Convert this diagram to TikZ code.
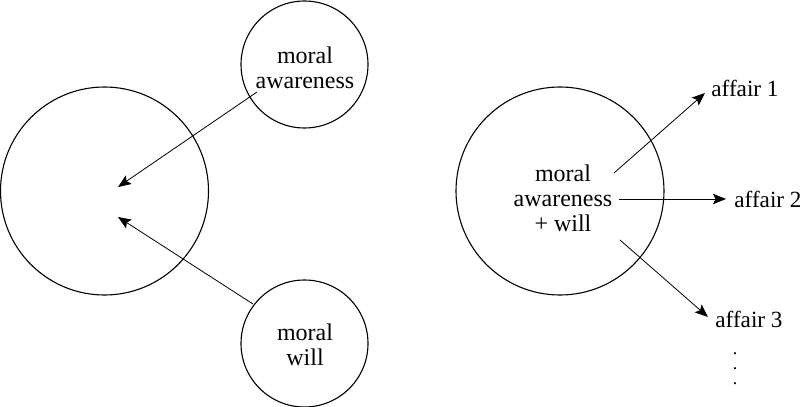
\documentclass[tikz,border=0pt]{standalone}
\usepackage{fontspec}
\setmainfont{Liberation Serif}
\usetikzlibrary{arrows.meta}
\begin{document}
\begin{tikzpicture}[x=0.5pt,y=-0.5pt,
  bigc/.style={circle,draw,line width=0.55pt,minimum size=104pt,inner sep=0pt},
  smallc/.style={circle,draw,line width=0.55pt,minimum size=63.5pt,inner sep=0pt},
  lbl/.style={inner sep=0pt,font=\fontsize{12}{12.5}\selectfont,align=center},
  aff/.style={inner sep=0pt,font=\fontsize{11.6}{12.5}\selectfont,anchor=west},
  arr/.style={line width=0.4pt,-{Stealth[length=6.5pt,width=5.2pt,inset=1.3pt]}}]
\useasboundingbox (0,0) rectangle (800,407);
% left part
\node[bigc] (L) at (104.5,191) {};
\node[smallc] (A) at (304.5,64.5) {};
\node[lbl] (At) at (305,68) {moral\\awareness};
\node[smallc] (W) at (304.5,343.5) {};
\node[lbl] (Wt) at (305,345) {moral\\will};
\coordinate (As) at (257,92);
\coordinate (Ae) at (118,187);
\coordinate (Ws) at (253,304);
\coordinate (We) at (118,217);
\draw[arr] (As) -- (Ae);
\draw[arr] (Ws) -- (We);
% right part
\node[bigc] (R) at (560,191) {};
\node[lbl] (Rt) at (563,198) {moral\\awareness\\+ will};
\node[aff] (F1) at (711,88) {affair 1};
\node[aff] (F2) at (734,199) {affair 2};
\node[aff] (F3) at (715,319) {affair 3};
\coordinate (R1) at (614,173);
\coordinate (R2) at (619,199);
\coordinate (R3) at (620,240);
\coordinate (T1) at (705,93);
\coordinate (T2) at (726,199);
\coordinate (T3) at (708,317);
\draw[arr] (R1) -- (T1);
\draw[arr] (R2) -- (T2);
\draw[arr] (R3) -- (T3);
\node[inner sep=0pt,align=center,font=\fontsize{9}{7.5}\selectfont] (D) at (735,369) {.\\.\\.};
\end{tikzpicture}
\end{document}
